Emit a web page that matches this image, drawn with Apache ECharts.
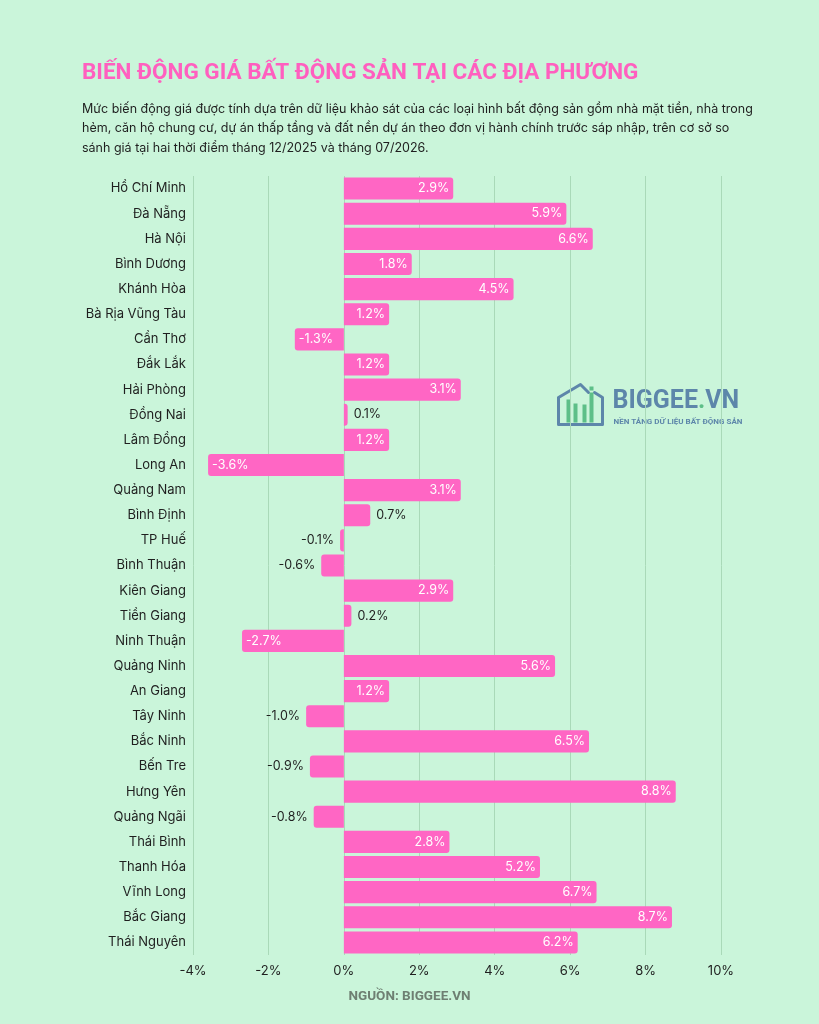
<!DOCTYPE html>
<html>
<head>
<meta charset="utf-8">
<script src="https://cdn.jsdelivr.net/npm/echarts@6/dist/echarts.min.js"></script>
<style>
  html, body { margin: 0; padding: 0; background: #caf5da; }
  #main { width: 819px; height: 1024px; }
</style>
</head>
<body>
<div id="main"></div>
<script>
// tỉnh / thành phố, từ trên xuống
const provinces = [
  'Hồ Chí Minh', 'Đà Nẵng', 'Hà Nội', 'Bình Dương', 'Khánh Hòa', 'Bà Rịa Vũng Tàu',
  'Cần Thơ', 'Đắk Lắk', 'Hải Phòng', 'Đồng Nai', 'Lâm Đồng', 'Long An', 'Quảng Nam',
  'Bình Định', 'TP Huế', 'Bình Thuận', 'Kiên Giang', 'Tiền Giang', 'Ninh Thuận',
  'Quảng Ninh', 'An Giang', 'Tây Ninh', 'Bắc Ninh', 'Bến Tre', 'Hưng Yên',
  'Quảng Ngãi', 'Thái Bình', 'Thanh Hóa', 'Vĩnh Long', 'Bắc Giang', 'Thái Nguyên'
]
// % thay đổi giá 12/2025 -> 07/2026
const changes = [
  2.9, 5.9, 6.6, 1.8, 4.5, 1.2,
  -1.3, 1.2, 3.1, 0.1, 1.2, -3.6, 3.1,
  0.7, -0.1, -0.6, 2.9, 0.2, -2.7,
  5.6, 1.2, -1.0, 6.5, -0.9, 8.8,
  -0.8, 2.8, 5.2, 6.7, 8.7, 6.2
]
const xTicks = [-4, -2, 0, 2, 4, 6, 8, 10]

const pink = '#ff66c4'
const textDark = '#1f1f1f'

const chart = echarts.init(document.getElementById('main'))

// nhãn nằm trong thanh nếu thanh đủ dài
const barData = changes.map(v => {
  const inside = Math.abs(v) > 1.1
  let pos
  if (v >= 0) pos = inside ? 'insideRight' : 'right'
  else pos = inside ? 'insideLeft' : 'left'
  return {
    value: v,
    itemStyle: { borderRadius: v >= 0 ? [0, 3, 3, 0] : [3, 0, 0, 3] },
    label: {
      position: pos,
      color: inside ? '#ffffff' : textDark,
      distance: inside ? 4 : 6
    }
  }
})

const option = {
  backgroundColor: '#caf5da',
  textStyle: { fontFamily: 'Inter' },
  grid: { left: 193, right: 98, top: 176, height: 779, containLabel: false },
  xAxis: {
    type: 'value',
    min: xTicks[0],
    max: xTicks[xTicks.length - 1],
    interval: 2,
    axisLine: { show: false },
    axisTick: { show: false },
    axisLabel: {
      formatter: v => v + '%',
      color: textDark,
      fontSize: 13,
      margin: 10
    },
    splitLine: { lineStyle: { color: '#a9d9b8', width: 1 } }
  },
  yAxis: {
    type: 'category',
    data: provinces,
    inverse: true,
    axisLine: { show: false },
    axisTick: { show: false },
    axisLabel: { color: textDark, fontSize: 13, margin: 7 }
  },
  series: [{
    type: 'bar',
    data: barData,
    barCategoryGap: '12%',
    itemStyle: { color: pink },
    label: {
      show: true,
      fontSize: 12.5,
      formatter: p => p.value.toFixed(1) + '%'
    }
  }],
  graphic: [
    {
      type: 'text', left: 82, top: 62,
      style: {
        text: 'BIẾN ĐỘNG GIÁ BẤT ĐỘNG SẢN TẠI CÁC ĐỊA PHƯƠNG',
        font: 'bold 22.5px Roboto',
        fill: '#ff5fbf'
      }
    },
    {
      type: 'text', left: 82, top: 99,
      style: {
        text: 'Mức biến động giá được tính dựa trên dữ liệu khảo sát của các loại hình bất động sản gồm nhà mặt tiền, nhà trong\nhẻm, căn hộ chung cư, dự án thấp tầng và đất nền dự án theo đơn vị hành chính trước sáp nhập, trên cơ sở so\nsánh giá tại hai thời điểm tháng 12/2025 và tháng 07/2026.',
        font: '12.5px Inter',
        lineHeight: 19.5,
        fill: textDark
      }
    },
    {
      type: 'text', left: 'center', top: 990,
      style: {
        text: 'NGUỒN: BIGGEE.VN',
        font: 'bold 13.5px Roboto',
        fill: '#6e7f72'
      }
    },
    // logo biggee
    {
      type: 'group', left: 556, top: 382,
      children: [
        {
          type: 'polyline',
          shape: { points: [[32, 9], [24, 1], [2, 14], [2, 41], [46, 41], [46, 14], [38, 9]] },
          style: { stroke: '#5d86aa', lineWidth: 3, fill: null, lineJoin: 'round', lineCap: 'round' }
        },
        { type: 'rect', shape: { x: 10, y: 16, width: 4, height: 23 }, style: { fill: '#5dbf88' } },
        { type: 'rect', shape: { x: 17, y: 20, width: 4, height: 19 }, style: { fill: '#5dbf88' } },
        { type: 'rect', shape: { x: 26, y: 21, width: 4, height: 18 }, style: { fill: '#5dbf88' } },
        { type: 'rect', shape: { x: 33, y: 9, width: 4, height: 30 }, style: { fill: '#5dbf88' } },
        { type: 'rect', shape: { x: 33, y: 3, width: 4, height: 4 }, style: { fill: '#5dbf88' } },
        {
          type: 'text', x: 56, y: 6,
          style: {
            text: '{a|BIGGEE}{b|.}{a|VN}',
            rich: {
              a: { font: 'bold 25px Roboto', fill: '#5d86aa' },
              b: { font: 'bold 25px Roboto', fill: '#5dbf88' }
            }
          }
        },
        {
          type: 'text', x: 57, y: 34,
          style: {
            text: 'NỀN TẢNG DỮ LIỆU BẤT ĐỘNG SẢN',
            font: 'bold 8px Roboto',
            fill: '#5d86aa'
          }
        }
      ]
    }
  ]
}

chart.setOption(option)
</script>
</body>
</html>
